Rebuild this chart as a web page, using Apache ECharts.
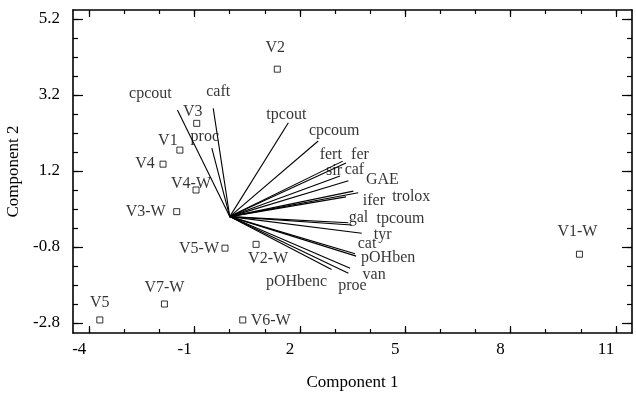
<!DOCTYPE html>
<html>
<head>
<meta charset="utf-8">
<script src="https://cdn.jsdelivr.net/npm/echarts@6/dist/echarts.min.js"></script>
<style>
    html, body { margin: 0; padding: 0; background: #fff; }
    #biplot { width: 636px; height: 393px; }
</style>
</head>
<body>
<div id="biplot"></div>
<script>
// 样本点 (observations)
var pointNames = ["V1", "V2", "V3", "V4", "V5", "V1-W", "V2-W", "V3-W", "V4-W", "V5-W", "V6-W", "V7-W"];
var pointX = [-1.42, 1.355, -0.94, -1.90, -3.70, 9.96, 0.75, -1.51, -0.96, -0.135, 0.37, -1.86];
var pointY = [1.75, 3.88, 2.455, 1.38, -2.72, -0.99, -0.73, 0.13, 0.70, -0.83, -2.72, -2.30];

// 变量向量 (loadings), all start at origin
var vecNames = ["cpcout", "caft", "proc", "tpcout", "cpcoum", "fert", "fer", "sir", "caf", "GAE",
    "trolox", "ifer", "gal", "tpcoum", "tyr", "cat", "pOHben", "van", "proe", "pOHbenc"];
var vecX = [-1.49, -0.47, -0.51, 1.67, 2.52, 3.22, 3.31, 3.14, 3.38, 3.52,
    3.66, 3.31, 3.38, 3.47, 3.76, 3.57, 3.60, 3.43, 3.38, 2.90];
var vecY = [2.805, 2.85, 1.80, 2.47, 1.99, 1.46, 1.41, 1.07, 0.945, 0.67,
    0.63, 0.52, -0.16, -0.22, -0.44, -0.98, -1.04, -1.36, -1.49, -1.39];

// tick labels
var xMajor = [-4, -1, 2, 5, 8, 11];
var xMinor = [-4, -3, -2, -1, 0, 1, 2, 3, 4, 5, 6, 7, 8, 9, 10, 11];
var yMajor = [-2.8, -0.8, 1.2, 3.2, 5.2];
var yMinor = [-2.8, -2.3, -1.8, -1.3, -0.8, -0.3, 0.2, 0.7, 1.2, 1.7, 2.2, 2.7, 3.2, 3.7, 4.2, 4.7, 5.2];

// label placement (pixels from the mark)
var pointLabelOffset = [[-12, -9], [-2, -21], [-4, -12], [-18, 0], [0, -17], [-2, -22],
    [12, 14], [-31, 0], [-5, -6], [-26, 1], [28, 1], [0, -16]];
var vecLabelOffset = [[-27, -16], [5, -17], [-7, -11], [-2, -8], [16, -10], [-12, -6], [14, -8],
    [-6, -5], [6, -11], [29, -11], [53, 4], [28, 4], [10, -5], [49, -6], [21, 1], [12, -10],
    [32, 2], [24, 7], [4, 13], [-35, 12]];

var FONT = "Liberation Serif";
var X_MIN = -4.464, X_MAX = 11.457;
var Y_MIN = -3.063, Y_MAX = 5.437;

function makeAxis(pos, min, max, ticks, tickLen, labels, showLine) {
    var axis = {
        type: "value",
        position: pos,
        min: min,
        max: max,
        splitLine: {show: false},
        axisLine: {show: showLine, onZero: false, lineStyle: {color: "#000", width: 1.6}},
        axisTick: {show: true, inside: true, length: tickLen, customValues: ticks,
            lineStyle: {color: "#000", width: 1.2}},
        axisLabel: {show: false}
    };
    if (labels) {
        axis.axisLabel = {
            show: true,
            customValues: labels,
            color: "#000",
            fontFamily: FONT,
            fontSize: 17
        };
    }
    return axis;
}

var xAxes = [
    makeAxis("bottom", X_MIN, X_MAX, xMajor, 7, xMajor, true),
    makeAxis("bottom", X_MIN, X_MAX, xMinor, 4, null, false),
    makeAxis("top", X_MIN, X_MAX, xMajor, 7, null, true),
    makeAxis("top", X_MIN, X_MAX, xMinor, 4, null, false)
];
xAxes[0].axisLabel.margin = 8;
xAxes[0].axisLabel.padding = [0, 20, 0, 0];
xAxes[0].name = "Component 1";
xAxes[0].nameLocation = "middle";
xAxes[0].nameGap = 41;
xAxes[0].nameTextStyle = {color: "#000", fontFamily: FONT, fontSize: 17};

var yAxes = [
    makeAxis("left", Y_MIN, Y_MAX, yMajor, 10, yMajor, true),
    makeAxis("left", Y_MIN, Y_MAX, yMinor, 5, null, false),
    makeAxis("right", Y_MIN, Y_MAX, yMajor, 10, null, true),
    makeAxis("right", Y_MIN, Y_MAX, yMinor, 5, null, false)
];
yAxes[0].axisLabel.margin = 13;
yAxes[0].name = "Component 2";
yAxes[0].nameLocation = "middle";
yAxes[0].nameGap = 43;
yAxes[0].nameTextStyle = {color: "#000", fontFamily: FONT, fontSize: 17};

var series = [];

// 向量线
vecNames.forEach(function (name, i) {
    series.push({
        type: "line",
        data: [[0, 0], [vecX[i], vecY[i]]],
        symbol: "none",
        silent: true,
        lineStyle: {color: "#000", width: 1.1}
    });
});

// 向量标签
series.push({
    type: "scatter",
    symbolSize: 1,
    silent: true,
    itemStyle: {color: "rgba(0,0,0,0)"},
    label: {show: true, position: "inside", formatter: "{b}", color: "#000", fontFamily: FONT, fontSize: 16},
    data: vecNames.map(function (name, i) {
        return {name: name, value: [vecX[i], vecY[i]], label: {offset: vecLabelOffset[i]}};
    })
});

// 样本点
series.push({
    type: "scatter",
    symbol: "rect",
    symbolSize: 6,
    silent: true,
    itemStyle: {color: "#fff", borderColor: "#000", borderWidth: 1},
    label: {show: true, position: "inside", formatter: "{b}", color: "#000", fontFamily: FONT, fontSize: 16},
    data: pointNames.map(function (name, i) {
        return {name: name, value: [pointX[i], pointY[i]], label: {offset: pointLabelOffset[i]}};
    })
});

var biplot = echarts.init(document.getElementById("biplot"));
biplot.setOption({
    animation: false,
    backgroundColor: "#fff",
    grid: {left: 73, right: 4, top: 10, bottom: 60, outerBoundsMode: "none"},
    xAxis: xAxes,
    yAxis: yAxes,
    series: series
});
</script>
</body>
</html>
